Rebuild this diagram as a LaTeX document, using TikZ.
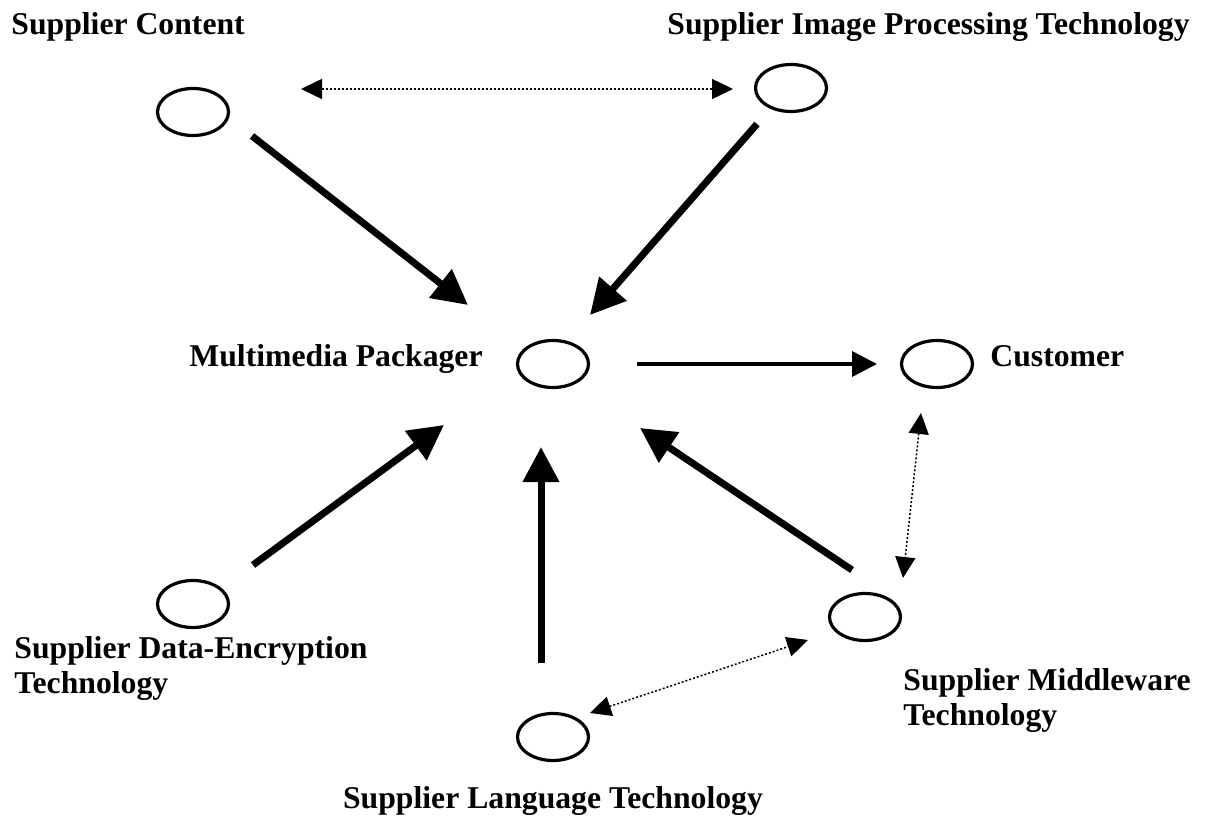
\documentclass[tikz,border=0pt]{standalone}
\usepackage{fontspec}
\setmainfont{Liberation Serif}
\usetikzlibrary{arrows.meta,calc,shapes.geometric}

\begin{document}
\begin{tikzpicture}[x=0.5pt,y=-0.5pt,
		party/.style={ellipse,draw,line width=1.6pt,minimum width=35.5pt,minimum height=23.5pt,inner sep=0pt},
		label text/.style={inner sep=0pt,align=left,font=\fontsize{15.85}{17.5}\selectfont\bfseries},
		flow/.style={line width=3.5pt,-{Triangle[length=17.5pt,width=17.5pt]}},
		sale/.style={line width=1.75pt,-{Triangle[length=12.5pt,width=12.5pt]}},
		link/.style={line width=0.75pt,dash pattern=on 1pt off 1pt,{Triangle[length=10.5pt,width=10pt]}-{Triangle[length=10.5pt,width=10pt]}}]
		\useasboundingbox (0,0) rectangle (1205,818);
		\node[party] (sc) at (193,112) {};
		\node[party] (ip) at (791,88) {};
		\node[party] (mp) at (553,364) {};
		\node[party] (cust) at (937,364) {};
		\node[party] (de) at (193,604) {};
		\node[party] (mw) at (865,617) {};
		\node[party] (lang) at (553,737) {};
		\node[label text,anchor=base west] at (11,35) {Supplier Content};
		\node[label text,anchor=base east] at (1190,35) {Supplier Image Processing Technology};
		\node[label text,anchor=base east] at (483,366) {Multimedia Packager};
		\node[label text,anchor=base west] at (990,366) {Customer};
		\node[label text,anchor=base west] at (14,693) {Supplier Data-Encryption\\Technology};
		\node[label text,anchor=base west] at (903,725) {Supplier Middleware\\Technology};
		\node[label text,anchor=base] at (553,808) {Supplier Language Technology};
		\draw[flow] ($(sc)+(59,24)$) -- ($(mp)+(-85,-59)$);
		\draw[flow] ($(ip)+(-34,36)$) -- ($(mp)+(37,-49)$);
		\draw[sale] ($(mp)+(84,0)$) -- ($(cust)+(-60,0)$);
		\draw[flow] ($(de)+(60,-39)$) -- ($(mp)+(-109,61)$);
		\draw[flow] ($(lang)+(-12,-74)$) -- ($(mp)+(-12,83)$);
		\draw[flow] ($(mw)+(-13,-47)$) -- ($(mp)+(87,64)$);
		\draw[link] ($(sc)+(108,-23)$) -- ($(ip)+(-58,1)$);
		\draw[link] ($(cust)+(-16,49)$) -- ($(mw)+(38,-39)$);
		\draw[link] ($(lang)+(37,-24)$) -- ($(mw)+(-57,23)$);
\end{tikzpicture}
\end{document}
